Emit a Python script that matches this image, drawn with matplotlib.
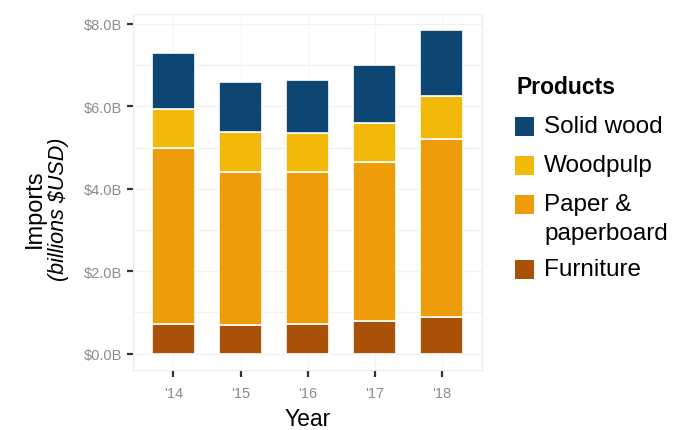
import matplotlib

matplotlib.use("Agg")
import matplotlib.pyplot as plt  # noqa: E402
import numpy as np  # noqa: E402
from matplotlib.patches import Rectangle  # noqa: E402

plt.rcParams["font.family"] = ["Liberation Sans", "DejaVu Sans"]

# data (billions USD), stacked bottom -> top
years = ["'14", "'15", "'16", "'17", "'18"]
furniture = [0.72, 0.69, 0.71, 0.79, 0.89]
paper = [4.27, 3.72, 3.70, 3.87, 4.32]
woodpulp = [0.94, 0.97, 0.94, 0.93, 1.05]
solid_wood = [1.36, 1.22, 1.30, 1.41, 1.60]

y_ticks = [0, 2, 4, 6, 8]
y_tick_labels = ["$0.0B", "$2.0B", "$4.0B", "$6.0B", "$8.0B"]

series = [
    ("Furniture", furniture, "#a95106"),
    ("Paper &\npaperboard", paper, "#ef9c0a"),
    ("Woodpulp", woodpulp, "#f2b80a"),
    ("Solid wood", solid_wood, "#0d4673"),
]

W, H = 683, 431
fig = plt.figure(figsize=(W / 100, H / 100), dpi=100)
ax = fig.add_axes([0.195, 0.140, 0.511, 0.826])

x = np.arange(len(years))
bottom = np.zeros(len(years))
for name, vals, color in series:
    ax.bar(x, vals, width=0.64, bottom=bottom, color=color,
           edgecolor="white", linewidth=1.2, zorder=3)
    bottom += np.array(vals)

ax.set_xlim(-0.6, len(years) - 0.4)
ax.set_ylim(-0.39, 8.25)

# faint grid, major + minor
ax.set_yticks(y_ticks)
ax.set_yticks([1, 3, 5, 7], minor=True)
ax.set_yticklabels(y_tick_labels)
ax.grid(axis="y", which="both", color="#f0f0f0", linewidth=0.8, zorder=0)
ax.grid(axis="x", color="#f4f4f4", linewidth=0.8, zorder=0)
ax.tick_params(axis="y", which="minor", length=0)

ax.set_xticks(x)
ax.set_xticklabels(years)
ax.tick_params(axis="both", which="major", colors="#333333", width=1.6,
               length=4, labelsize=10.5, labelcolor="#8c8c8c", pad=4)
ax.tick_params(axis="x", length=5, pad=7)

for sp in ax.spines.values():
    sp.set_color("#ececec")
    sp.set_linewidth(0.8)

ax.set_xlabel("Year", fontsize=16.5, color="black", labelpad=5)
fig.text(0.051, 0.515, "Imports", rotation=90, fontsize=17,
         ha="center", va="center")
fig.text(0.086, 0.515, "(billions $USD)", rotation=90, fontsize=15.5,
         style="italic", ha="center", va="center")


# legend drawn by hand so the key sits next to the first line of each label
def fx(px):
    return px / W


def fy(py):
    return 1 - py / H


fig.text(fx(516), fy(88), "Products", fontsize=16.5, fontweight="bold",
         ha="left", va="center")
key_rows = [270, 205, 166, 127]  # pixel centres, same order as series
key = 19
for (name, _, color), yc in zip(series, key_rows):
    fig.patches.append(Rectangle((fx(515), fy(yc + key / 2)), key / W, key / H,
                                 transform=fig.transFigure, facecolor=color,
                                 edgecolor="none"))
    fig.text(fx(544), fy(yc), name.split("\n")[0], fontsize=17.5,
             ha="left", va="center")
    for i, extra in enumerate(name.split("\n")[1:], start=1):
        fig.text(fx(544), fy(yc + 29 * i), extra, fontsize=17.5,
                 ha="left", va="center")

fig.savefig("out.png", dpi=100)
plt.close(fig)
